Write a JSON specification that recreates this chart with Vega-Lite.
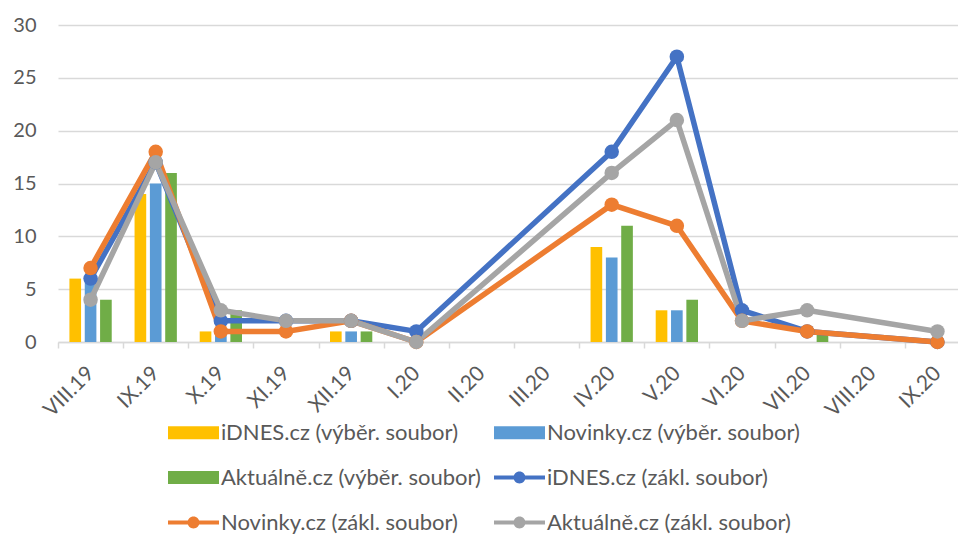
{
  "$schema": "https://vega.github.io/schema/vega-lite/v6.json",
  "width": 900,
  "height": 317,
  "autosize": "none",
  "padding": {"left": 58, "top": 25, "right": 0, "bottom": 192},
  "background": "white",
  "data": {
    "values": [
      {"m": "VIII.19", "s": "iDNES.cz (výběr. soubor)", "t": "b", "v": 6},
      {"m": "VIII.19", "s": "Novinky.cz  (výběr. soubor)", "t": "b", "v": 6},
      {"m": "VIII.19", "s": "Aktuálně.cz (výběr. soubor)", "t": "b", "v": 4},
      {"m": "IX.19", "s": "iDNES.cz (výběr. soubor)", "t": "b", "v": 14},
      {"m": "IX.19", "s": "Novinky.cz  (výběr. soubor)", "t": "b", "v": 15},
      {"m": "IX.19", "s": "Aktuálně.cz (výběr. soubor)", "t": "b", "v": 16},
      {"m": "X.19", "s": "iDNES.cz (výběr. soubor)", "t": "b", "v": 1},
      {"m": "X.19", "s": "Novinky.cz  (výběr. soubor)", "t": "b", "v": 1},
      {"m": "X.19", "s": "Aktuálně.cz (výběr. soubor)", "t": "b", "v": 3},
      {"m": "XII.19", "s": "iDNES.cz (výběr. soubor)", "t": "b", "v": 1},
      {"m": "XII.19", "s": "Novinky.cz  (výběr. soubor)", "t": "b", "v": 1},
      {"m": "XII.19", "s": "Aktuálně.cz (výběr. soubor)", "t": "b", "v": 1},
      {"m": "IV.20", "s": "iDNES.cz (výběr. soubor)", "t": "b", "v": 9},
      {"m": "IV.20", "s": "Novinky.cz  (výběr. soubor)", "t": "b", "v": 8},
      {"m": "IV.20", "s": "Aktuálně.cz (výběr. soubor)", "t": "b", "v": 11},
      {"m": "V.20", "s": "iDNES.cz (výběr. soubor)", "t": "b", "v": 3},
      {"m": "V.20", "s": "Novinky.cz  (výběr. soubor)", "t": "b", "v": 3},
      {"m": "V.20", "s": "Aktuálně.cz (výběr. soubor)", "t": "b", "v": 4},
      {"m": "VII.20", "s": "Aktuálně.cz (výběr. soubor)", "t": "b", "v": 1},

      {"m": "VIII.19", "s": "iDNES.cz (zákl. soubor)", "t": "l", "v": 6},
      {"m": "IX.19", "s": "iDNES.cz (zákl. soubor)", "t": "l", "v": 17},
      {"m": "X.19", "s": "iDNES.cz (zákl. soubor)", "t": "l", "v": 2},
      {"m": "XI.19", "s": "iDNES.cz (zákl. soubor)", "t": "l", "v": 2},
      {"m": "XII.19", "s": "iDNES.cz (zákl. soubor)", "t": "l", "v": 2},
      {"m": "I.20", "s": "iDNES.cz (zákl. soubor)", "t": "l", "v": 1},
      {"m": "IV.20", "s": "iDNES.cz (zákl. soubor)", "t": "l", "v": 18},
      {"m": "V.20", "s": "iDNES.cz (zákl. soubor)", "t": "l", "v": 27},
      {"m": "VI.20", "s": "iDNES.cz (zákl. soubor)", "t": "l", "v": 3},
      {"m": "VII.20", "s": "iDNES.cz (zákl. soubor)", "t": "l", "v": 1},
      {"m": "IX.20", "s": "iDNES.cz (zákl. soubor)", "t": "l", "v": 0},

      {"m": "VIII.19", "s": "Novinky.cz (zákl. soubor)", "t": "l", "v": 7},
      {"m": "IX.19", "s": "Novinky.cz (zákl. soubor)", "t": "l", "v": 18},
      {"m": "X.19", "s": "Novinky.cz (zákl. soubor)", "t": "l", "v": 1},
      {"m": "XI.19", "s": "Novinky.cz (zákl. soubor)", "t": "l", "v": 1},
      {"m": "XII.19", "s": "Novinky.cz (zákl. soubor)", "t": "l", "v": 2},
      {"m": "I.20", "s": "Novinky.cz (zákl. soubor)", "t": "l", "v": 0},
      {"m": "IV.20", "s": "Novinky.cz (zákl. soubor)", "t": "l", "v": 13},
      {"m": "V.20", "s": "Novinky.cz (zákl. soubor)", "t": "l", "v": 11},
      {"m": "VI.20", "s": "Novinky.cz (zákl. soubor)", "t": "l", "v": 2},
      {"m": "VII.20", "s": "Novinky.cz (zákl. soubor)", "t": "l", "v": 1},
      {"m": "IX.20", "s": "Novinky.cz (zákl. soubor)", "t": "l", "v": 0},

      {"m": "VIII.19", "s": "Aktuálně.cz (zákl. soubor)", "t": "l", "v": 4},
      {"m": "IX.19", "s": "Aktuálně.cz (zákl. soubor)", "t": "l", "v": 17},
      {"m": "X.19", "s": "Aktuálně.cz (zákl. soubor)", "t": "l", "v": 3},
      {"m": "XI.19", "s": "Aktuálně.cz (zákl. soubor)", "t": "l", "v": 2},
      {"m": "XII.19", "s": "Aktuálně.cz (zákl. soubor)", "t": "l", "v": 2},
      {"m": "I.20", "s": "Aktuálně.cz (zákl. soubor)", "t": "l", "v": 0},
      {"m": "IV.20", "s": "Aktuálně.cz (zákl. soubor)", "t": "l", "v": 16},
      {"m": "V.20", "s": "Aktuálně.cz (zákl. soubor)", "t": "l", "v": 21},
      {"m": "VI.20", "s": "Aktuálně.cz (zákl. soubor)", "t": "l", "v": 2},
      {"m": "VII.20", "s": "Aktuálně.cz (zákl. soubor)", "t": "l", "v": 3},
      {"m": "IX.20", "s": "Aktuálně.cz (zákl. soubor)", "t": "l", "v": 1}
    ]
  },
  "encoding": {
    "x": {
      "field": "m",
      "type": "nominal",
      "sort": ["VIII.19", "IX.19", "X.19", "XI.19", "XII.19", "I.20", "II.20", "III.20", "IV.20", "V.20", "VI.20", "VII.20", "VIII.20", "IX.20"],
      "scale": {
        "domain": ["VIII.19", "IX.19", "X.19", "XI.19", "XII.19", "I.20", "II.20", "III.20", "IV.20", "V.20", "VI.20", "VII.20", "VIII.20", "IX.20"],
        "range": [0, 912],
        "paddingInner": 0,
        "paddingOuter": 0
      },
      "axis": {
        "title": null,
        "labelAngle": -45,
        "labelAlign": "right",
        "labelBaseline": "middle",
        "labelPadding": 22,
        "labelFontSize": 21,
        "tickBand": "extent",
        "tickColor": "#D9D9D9",
        "tickSize": 6,
        "tickWidth": 1.5,
        "domainColor": "#D9D9D9",
        "domainWidth": 1.5,
        "grid": false
      }
    },
    "y": {
      "field": "v",
      "type": "quantitative",
      "scale": {"domain": [0, 30], "nice": false},
      "axis": {
        "title": null,
        "values": [0, 5, 10, 15, 20, 25, 30],
        "domain": false,
        "ticks": false,
        "tickSize": 0,
        "labelPadding": 22,
        "gridColor": "#D9D9D9",
        "gridWidth": 1.5
      }
    }
  },
  "layer": [
    {
      "transform": [{"filter": "datum.t == 'b'"}],
      "mark": {"type": "bar"},
      "encoding": {
        "xOffset": {
          "field": "s",
          "type": "nominal",
          "scale": {
            "domain": ["iDNES.cz (výběr. soubor)", "Novinky.cz  (výběr. soubor)", "Aktuálně.cz (výběr. soubor)"],
            "paddingInner": 0.24,
            "paddingOuter": 0.745
          }
        },
        "color": {"field": "s", "type": "nominal"}
      }
    },
    {
      "transform": [{"filter": "datum.t == 'l'"}],
      "mark": {"type": "line", "strokeWidth": 5.5, "point": {"filled": true, "size": 210}},
      "encoding": {
        "color": {"field": "s", "type": "nominal"}
      }
    },
    {
      "transform": [{"filter": "false"}],
      "mark": {"type": "point", "filled": true},
      "encoding": {
        "color": {
          "field": "s",
          "type": "nominal",
          "scale": {
            "domain": ["iDNES.cz (výběr. soubor)", "Novinky.cz  (výběr. soubor)", "Aktuálně.cz (výběr. soubor)", "iDNES.cz (zákl. soubor)", "Novinky.cz (zákl. soubor)", "Aktuálně.cz (zákl. soubor)"],
            "range": ["#FFC000", "#5B9BD5", "#70AD47", "#4472C4", "#ED7D31", "#A5A5A5"]
          }
        },
        "shape": {
          "field": "s",
          "type": "nominal",
          "scale": {
            "domain": ["iDNES.cz (výběr. soubor)", "Novinky.cz  (výběr. soubor)", "Aktuálně.cz (výběr. soubor)", "iDNES.cz (zákl. soubor)", "Novinky.cz (zákl. soubor)", "Aktuálně.cz (zákl. soubor)"],
            "range": [
              "M-1,-0.255H1V0.255H-1Z",
              "M-1,-0.255H1V0.255H-1Z",
              "M-1,-0.255H1V0.255H-1Z",
              "M-1,-0.08H1V0.08H-1Z M-0.235,0A0.235,0.235 0 1,1 0.235,0A0.235,0.235 0 1,1 -0.235,0Z",
              "M-1,-0.08H1V0.08H-1Z M-0.235,0A0.235,0.235 0 1,1 0.235,0A0.235,0.235 0 1,1 -0.235,0Z",
              "M-1,-0.08H1V0.08H-1Z M-0.235,0A0.235,0.235 0 1,1 0.235,0A0.235,0.235 0 1,1 -0.235,0Z"
            ]
          }
        }
      }
    }
  ],
  "resolve": {"legend": {"color": "shared", "shape": "shared"}},
  "config": {
    "view": {"stroke": null},
    "font": "Lato",
    "axis": {"labelFont": "Lato", "labelColor": "#595959", "labelFontSize": 20},
    "legend": {
      "title": null,
      "orient": "none",
      "direction": "horizontal",
      "legendX": 110,
      "legendY": 382,
      "columns": 2,
      "columnPadding": 13,
      "rowPadding": 8,
      "padding": 0,
      "symbolSize": 2601,
      "symbolStrokeWidth": 0,
      "symbolOpacity": 1,
      "labelFont": "Lato",
      "labelFontSize": 22,
      "labelColor": "#595959",
      "labelOffset": 2,
      "labelLimit": 400
    }
  }
}
